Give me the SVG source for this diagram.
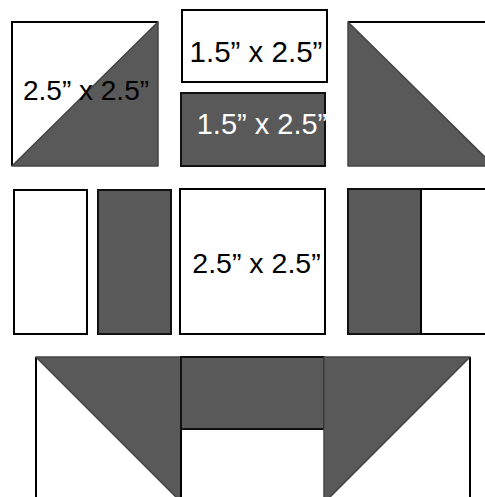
<svg xmlns="http://www.w3.org/2000/svg" width="485" height="497" viewBox="0 0 485 497">
<style>
.w{fill:#fff;stroke:#000;stroke-width:2}
.d{fill:#595959;stroke:#111;stroke-width:2}
.t{fill:#595959;stroke:#444;stroke-width:1.5;stroke-linejoin:round}
.edge{fill:none;stroke:#000;stroke-width:2}
.lbl{font-family:"Liberation Sans",Arial,sans-serif;font-size:28.5px}
</style>
<rect width="485" height="497" fill="#fff"/>
<g id="hst-left">
<rect x="12" y="22" width="146" height="144" fill="#fff"/>
<polyline class="edge" points="12,166 12,22 158,22"/>
<polygon class="t" points="12,166 158,22 158,166"/>
<text class="lbl" x="86" y="100" text-anchor="middle" fill="#000" style="font-size:28px">2.5&#8221; x 2.5&#8221;</text>
</g>
<g id="rect-white-top">
<rect class="w" x="182" y="10" width="145" height="72"/>
<text class="lbl" x="256" y="62" text-anchor="middle" fill="#000" style="font-size:29.5px">1.5&#8221; x 2.5&#8221;</text>
</g>
<g id="rect-dark-top">
<rect class="d" x="181" y="93" width="144" height="73"/>
<text class="lbl" x="262" y="134" text-anchor="middle" fill="#fff" style="font-size:29px">1.5&#8221; x 2.5&#8221;</text>
</g>
<g id="hst-right">
<rect x="348" y="22" width="146" height="144" fill="#fff"/>
<line class="edge" x1="348" y1="22" x2="494" y2="22"/>
<polygon class="t" points="348,22 348,166 494,166"/>
</g>
<g id="strip-white">
<rect class="w" x="14" y="190" width="73" height="144"/>
</g>
<g id="strip-dark">
<rect class="d" x="98" y="190" width="73" height="144"/>
</g>
<g id="center-square">
<rect class="w" x="180" y="189" width="145" height="145"/>
<text class="lbl" x="256.5" y="273" text-anchor="middle" fill="#000">2.5&#8221; x 2.5&#8221;</text>
</g>
<g id="two-strip">
<rect class="d" x="348" y="189" width="73" height="145"/>
<rect class="w" x="421" y="189" width="80" height="145"/>
</g>
<g id="bottom-unit">
<rect x="36" y="357" width="434" height="150" fill="#fff"/>
<line class="edge" x1="36" y1="357" x2="36" y2="500"/>
<line class="edge" x1="470" y1="357" x2="470" y2="500"/>
<polygon class="t" points="36,357 181,357 181,502"/>
<rect class="d" x="181" y="357" width="143" height="72"/>
<polygon class="t" points="324,357 470,357 324,503"/>
<line class="edge" x1="181" y1="430" x2="181" y2="500"/>
</g>
</svg>
